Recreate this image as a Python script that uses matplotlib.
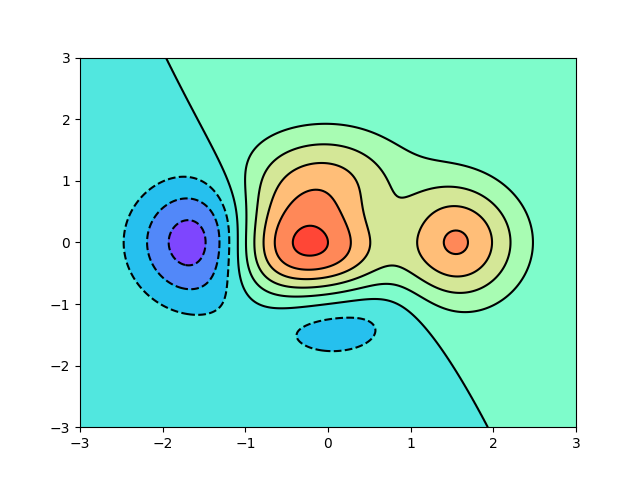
import numpy as np
import matplotlib
matplotlib.use("Agg")
import matplotlib.pyplot as plt

# Surface definition: z = (1 - x/2 + x^5 + y^3) * exp(-x^2 - y^2)
x_range = [-3, 3]
y_range = [-3, 3]
n_points = 256
n_levels = 8
ticks = [-3, -2, -1, 0, 1, 2, 3]

def f(x, y):
    return (1 - x / 2 + x**5 + y**3) * np.exp(-x**2 - y**2)

x = np.linspace(x_range[0], x_range[1], n_points)
y = np.linspace(y_range[0], y_range[1], n_points)
X, Y = np.meshgrid(x, y)
Z = f(X, Y)

fig = plt.figure(figsize=(6.4, 4.8), dpi=100)
plt.contourf(X, Y, Z, n_levels, alpha=0.85, cmap=plt.cm.rainbow)
plt.contour(X, Y, Z, n_levels, colors='black', linewidths=1.5)
plt.xticks(ticks)
plt.yticks(ticks)
plt.savefig("out.png", dpi=100)
